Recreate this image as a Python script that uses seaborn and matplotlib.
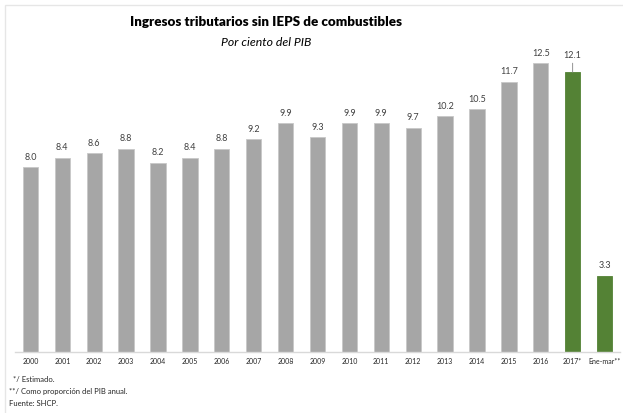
import matplotlib
matplotlib.use("Agg")
import matplotlib.pyplot as plt
import seaborn as sns
import pandas as pd

# Tax revenue excluding fuel IEPS, percent of GDP
categories = ["2000", "2001", "2002", "2003", "2004", "2005", "2006", "2007", "2008",
              "2009", "2010", "2011", "2012", "2013", "2014", "2015", "2016",
              "2017*", "Ene-mar**"]
values = [8.0, 8.4, 8.6, 8.8, 8.2, 8.4, 8.8, 9.2, 9.9, 9.3, 9.9, 9.9, 9.7,
          10.2, 10.5, 11.7, 12.5, 12.1, 3.3]
kinds = ["obs"] * 17 + ["est"] * 2

GRAY = "#A6A6A6"
GREEN = "#548235"

df = pd.DataFrame({"cat": categories, "val": values, "kind": kinds})

sns.set_theme(style="white")
plt.rcParams["font.family"] = ["Lato", "DejaVu Sans"]

fig = plt.figure(figsize=(6.23, 4.13), dpi=100)
ax = fig.add_axes([14.5 / 623, 1 - 352 / 413, 606 / 623, 302 / 413])

palette = [GRAY if k == "obs" else GREEN for k in kinds]
sns.barplot(data=df, x="cat", y="val", hue="cat", palette=palette, legend=False,
            width=0.48, ax=ax, saturation=1)
for p, k in zip(ax.patches, kinds):
    p.set_edgecolor("#C8C8C8" if k == "obs" else GREEN)
    p.set_linewidth(0.6)

ax.set_ylim(0, 13.07)
ax.set_xlim(-0.5, len(categories) - 0.5)
ax.set_xlabel("")
ax.set_ylabel("")
ax.set_yticks([])
for s in ["top", "left", "right"]:
    ax.spines[s].set_visible(False)
ax.spines["bottom"].set_color("#D9D9D9")
ax.spines["bottom"].set_linewidth(1.0)
ax.tick_params(axis="x", length=0, pad=4, labelsize=5, labelcolor="#262626")
ax.patch.set_alpha(0)

for i, v in enumerate(values):
    if categories[i] == "2017*":
        ax.annotate(f"{v:.1f}", xy=(i, v), xytext=(0, 9), textcoords="offset points",
                    ha="center", va="bottom", fontsize=6.5, color="#404040",
                    arrowprops=dict(arrowstyle="-", color="#808080", lw=0.6,
                                    shrinkA=0, shrinkB=0))
    else:
        ax.annotate(f"{v:.1f}", xy=(i, v), xytext=(0, 4), textcoords="offset points",
                    ha="center", va="bottom", fontsize=6.5, color="#404040")

# light outer frame
fig.add_artist(plt.Rectangle((5 / 623, -0.01), 1.0, 1 - 5 / 413 + 0.01,
                             transform=fig.transFigure, fill=False,
                             edgecolor="#E6E6E6", lw=1.0))

title_x = 266 / 623
fig.text(title_x, 1 - 22 / 413, "Ingresos tributarios sin IEPS de combustibles",
         ha="center", va="center", fontsize=9.6, fontweight="heavy", color="#000000")
fig.text(title_x, 1 - 42 / 413, "Por ciento del PIB", ha="center", va="center",
         fontsize=8.8, style="italic", color="#000000")

notes = ["  */ Estimado.", "**/ Como proporción del PIB anual.", "Fuente: SHCP."]
for j, t in enumerate(notes):
    fig.text(9 / 623, 1 - (380 + j * 11.5) / 413, t, ha="left", va="center",
             fontsize=5.5, color="#262626")

fig.savefig("out.png", dpi=100, facecolor="white")
